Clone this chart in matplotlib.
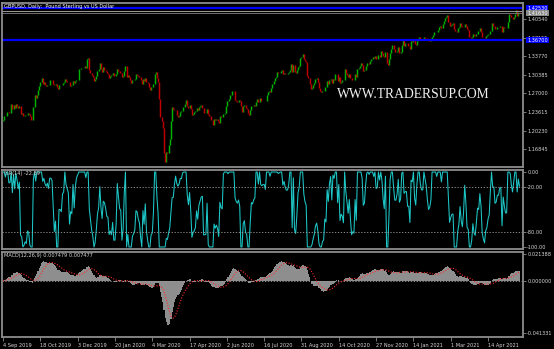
import numpy as np
import pandas as pd
import matplotlib
matplotlib.use("Agg")
import matplotlib.pyplot as plt

# GBPUSD daily closes, 4 Sep 2019 .. 21 May 2021, one row per week
closes = [
    1.2215, 1.2290, 1.2285,
    1.2355, 1.2355, 1.2335, 1.2335, 1.2505,
    1.2425, 1.2495, 1.2440, 1.2500, 1.2475,
    1.2440, 1.2475, 1.2320, 1.2345, 1.2290,
    1.2295, 1.2305, 1.2300, 1.2335, 1.2330,
    1.2295, 1.2215, 1.2210, 1.2450, 1.2665,
    1.2610, 1.2665, 1.2770, 1.2830, 1.2915,
    1.2975, 1.2880, 1.2910, 1.2855, 1.2830,
    1.2860, 1.2860, 1.2945, 1.2945, 1.2940,
    1.2880, 1.2860, 1.2880, 1.2810, 1.2775,
    1.2860, 1.2860, 1.2855, 1.2895, 1.2900,
    1.2955, 1.2925, 1.2915, 1.2905, 1.2830,
    1.2860, 1.2855, 1.2925, 1.2895, 1.2930,
    1.2945, 1.2950, 1.3140, 1.3150, 1.3155,
    1.3155, 1.3165, 1.3190, 1.3165, 1.3330,
    1.3340, 1.3120, 1.3080, 1.3035, 1.3005,
    1.2930, 1.2955, 1.3025, 1.3110,
    1.3145, 1.3260, 1.3145, 1.3085,
    # 2020
    1.3180, 1.3125, 1.3100, 1.3065, 1.3060,
    1.2985, 1.3020, 1.3030, 1.3075, 1.3010,
    1.3010, 1.3045, 1.3150, 1.3115, 1.3070,
    1.3065, 1.3000, 1.3025, 1.3105, 1.3205,
    1.2995, 1.3030, 1.2995, 1.2940, 1.2895,
    1.2940, 1.2950, 1.2965, 1.3045, 1.3040,
    1.3010, 1.2995, 1.2935, 1.2880, 1.2960,
    1.2930, 1.2975, 1.2915, 1.2895, 1.2825,
    1.2770, 1.2815, 1.2820, 1.2880, 1.3045,
    1.3085, 1.2980, 1.2910, 1.2600, 1.2275,
    1.2190, 1.2065, 1.1620, 1.1450, 1.1635,
    1.1615, 1.1755, 1.1870, 1.2190, 1.2455,
    1.2415, 1.2405, 1.2400, 1.2305, 1.2265,
    1.2295, 1.2370, 1.2380, 1.2445, 1.2455,
    1.2505, 1.2575, 1.2480, 1.2440, 1.2490,
    1.2415, 1.2305, 1.2325, 1.2355, 1.2375,
    1.2435, 1.2405, 1.2455, 1.2470, 1.2485,
    1.2430, 1.2335, 1.2335, 1.2335, 1.2410,
    1.2330, 1.2290, 1.2215, 1.2210, 1.2125,
    1.2235, 1.2215, 1.2230, 1.2200, 1.2165,
    1.2295, 1.2275, 1.2270, 1.2325, 1.2345,
    1.2480, 1.2570, 1.2560, 1.2590, 1.2665,
    1.2735, 1.2735, 1.2740, 1.2580, 1.2555,
    1.2545, 1.2585, 1.2560, 1.2480, 1.2355,
    1.2475, 1.2490, 1.2430, 1.2420, 1.2335,
    1.2315, 1.2400, 1.2475, 1.2470, 1.2485,
    1.2475, 1.2545, 1.2595, 1.2550, 1.2615,
    1.2565, 1.2560, 1.2565, 1.2565, 1.2565,
    1.2665, 1.2730, 1.2740, 1.2725, 1.2795,
    1.2875, 1.2925, 1.2985, 1.3005, 1.3085,
    1.3075, 1.3080, 1.3110, 1.3125, 1.3055,
    1.3075, 1.3045, 1.3045, 1.3065, 1.3090,
    1.3125, 1.3240, 1.3095, 1.3225, 1.3090,
    1.3080, 1.3125, 1.3185, 1.3200, 1.3345,
    1.3370, 1.3420, 1.3320, 1.3285, 1.3270,
    1.3010, 1.2985, 1.2880, 1.2775, 1.2795,
    1.2845, 1.2885, 1.2955, 1.2980, 1.2915,
    1.2800, 1.2735, 1.2725, 1.2745, 1.2750,
    1.2820, 1.2810, 1.2920, 1.2880, 1.2940,
    1.2965, 1.2885, 1.2955, 1.2945, 1.3045,
    1.3050, 1.2925, 1.3000, 1.2895, 1.2915,
    1.2950, 1.2935, 1.3140, 1.3075, 1.3040,
    1.3005, 1.3050, 1.2985, 1.2935, 1.2945,
    1.2940, 1.3050, 1.2995, 1.3140, 1.3155,
    1.3190, 1.3250, 1.3225, 1.3110, 1.3120,
    1.3195, 1.3245, 1.3250, 1.3240, 1.3285,
    1.3335, 1.3365, 1.3350, 1.3380, 1.3320,
    1.3325, 1.3400, 1.3370, 1.3465, 1.3440,
    1.3385, 1.3355, 1.3455, 1.3260, 1.3225,
    1.3320, 1.3440, 1.3500, 1.3585, 1.3510,
    1.3450, 1.3450, 1.3480, 1.3550,
    1.3440, 1.3455, 1.3580, 1.3670,
    # 2021
    1.3570, 1.3610, 1.3610, 1.3565, 1.3565,
    1.3515, 1.3645, 1.3640, 1.3670, 1.3590,
    1.3575, 1.3645, 1.3675, 1.3725, 1.3690,
    1.3675, 1.3675, 1.3735, 1.3715, 1.3705,
    1.3675, 1.3655, 1.3660, 1.3675, 1.3735,
    1.3755, 1.3820, 1.3825, 1.3815, 1.3850,
    1.3905, 1.3920, 1.3885, 1.3955, 1.4010,
    1.4070, 1.4095, 1.4135, 1.4005, 1.3920,
    1.3940, 1.3955, 1.3975, 1.3865, 1.3840,
    1.3820, 1.3885, 1.3915, 1.3990, 1.3930,
    1.3905, 1.3905, 1.3960, 1.3920, 1.3865,
    1.3860, 1.3730, 1.3700, 1.3725, 1.3790,
    1.3755, 1.3745, 1.3785, 1.3835, 1.3830,
    1.3885, 1.3820, 1.3735, 1.3720, 1.3710,
    1.3740, 1.3755, 1.3775, 1.3785, 1.3840,
    1.3985, 1.3930, 1.3930, 1.3870, 1.3875,
    1.3900, 1.3900, 1.3925, 1.3935, 1.3820,
    1.3915, 1.3895, 1.3895, 1.3895, 1.3995,
    1.4140, 1.4135, 1.4085, 1.4055, 1.4095,
    1.4145, 1.4215, 1.4110, 1.4185, 1.4155,
]
first_open = 1.2195

date_labels = ["4 Sep 2019", "18 Oct 2019", "3 Dec 2019", "20 Jan 2020", "4 Mar 2020",
               "17 Apr 2020", "2 Jun 2020", "16 Jul 2020", "31 Aug 2020", "14 Oct 2020",
               "27 Nov 2020", "14 Jan 2021", "1 Mar 2021", "14 Apr 2021"]
label_step = 32

price_ticks = [1.40540, 1.37155, 1.33770, 1.30385, 1.27000, 1.23615, 1.20230, 1.16845]
level_hi = 1.42530
level_lo = 1.36700
bid_price = 1.41630
ask_price = 1.41990

wr_ticks = [0, -20, -80, -100]
wr_levels = [-20, -80]
wr_text = "%R(14) -22.89"

macd_top = 0.021388
macd_bottom = -0.041331
macd_text = "MACD(12,26,9) 0.007479 0.007477"

title_text = "GBPUSD, Daily:  Pound Sterling vs US Dollar"
watermark = "WWW.TRADERSUP.COM"

# ---- indicators (same as the terminal computes them) ----
c = pd.Series(closes)
o = c.shift(1).fillna(first_open)
x = np.arange(len(c))

hh = c.rolling(14, min_periods=1).max()
ll = c.rolling(14, min_periods=1).min()
rng = (hh - ll).replace(0, np.nan)
wr = (-100 * (hh - c) / rng).fillna(0)

macd = c.ewm(span=12, adjust=False).mean() - c.ewm(span=26, adjust=False).mean()
signal = macd.rolling(9, min_periods=1).mean()

# ---- figure ----
W, H = 554, 349
fig = plt.figure(figsize=(W / 100, H / 100), dpi=100, facecolor="black")

def box(top, bottom):
    return [2 / W, (H - bottom) / H, 521 / W, (bottom - top) / H]

ax_p = fig.add_axes(box(3, 167))
ax_w = fig.add_axes(box(170, 249), sharex=ax_p)
ax_m = fig.add_axes(box(252, 337), sharex=ax_p)

txt = "#d8d8d8"
for ax in (ax_p, ax_w, ax_m):
    ax.set_facecolor("black")
    for s in ax.spines.values():
        s.set_color("#8c8c8c")
        s.set_linewidth(1.3)
    ax.yaxis.tick_right()
    ax.tick_params(axis="y", colors="#8c8c8c", labelcolor=txt, labelsize=3.6,
                   length=2, width=0.6, pad=1)
    ax.tick_params(axis="x", bottom=False, labelbottom=False)

# candles (open = previous close)
up = c >= o
ax_p.vlines(x[up], o[up], c[up], colors="#00b400", linewidth=1.05)
ax_p.vlines(x[~up], c[~up], o[~up], colors="#c00000", linewidth=1.05)

ax_p.axhline(ask_price, color="#9a9a9a", lw=0.7)
ax_p.axhline(bid_price, color="#6e6e6e", lw=0.7)
ax_p.axhline(level_hi, color="#0000ff", lw=1.6)
ax_p.axhline(level_lo, color="#0000ff", lw=1.6)

ax_p.set_ylim(1.1361, 1.4345)
ax_p.set_xlim(-0.9, 446)
ax_p.set_yticks(price_ticks)
ax_p.set_yticklabels([f"{v:.5f}" for v in price_ticks])

for val, fc in ((level_hi, "#0000ff"), (level_lo, "#0000ff"), (bid_price, "#8a8a8a")):
    ax_p.annotate(f"{val:.5f}", xy=(1, val), xycoords=("axes fraction", "data"),
                  xytext=(3, 0), textcoords="offset points", va="center", ha="left",
                  fontsize=3.6, color="white", zorder=5,
                  bbox=dict(boxstyle="square,pad=0.15", fc=fc, ec="none"),
                  annotation_clip=False)

ax_p.text(0.004, 0.995, title_text, transform=ax_p.transAxes, color="white",
          fontsize=3.6, va="top", ha="left")
ax_p.text(0.79, 0.445, watermark, transform=ax_p.transAxes, color="#f0f0f0",
          fontsize=9.8, family="Liberation Serif", va="center", ha="center")

# Williams %R
ax_w.plot(x, wr, color="#1ec8c8", lw=0.75)
for lv in wr_levels:
    ax_w.axhline(lv, color="#a0a0a0", lw=0.6, ls=(0, (1.5, 2)))
ax_w.set_ylim(-102.7, 2.7)
ax_w.set_yticks(wr_ticks)
ax_w.set_yticklabels([f"{v:.2f}" for v in wr_ticks])
ax_w.text(0.004, 0.985, wr_text, transform=ax_w.transAxes, color=txt,
          fontsize=3.6, va="top", ha="left")

# MACD
ax_m.bar(x, macd, width=1.0, color="#8e8e8e", linewidth=0)
ax_m.axhline(0, color="#a0a0a0", lw=0.6, ls=(0, (1.5, 2)))
ax_m.plot(x, signal, color="#ff2a2a", lw=0.8, ls=(0, (1, 1.5)))
ax_m.set_ylim(-0.0444, 0.0230)
ax_m.set_yticks([macd_top, 0.0, macd_bottom])
ax_m.set_yticklabels([f"{v:.6f}" for v in (macd_top, 0.0, macd_bottom)])
ax_m.text(0.004, 0.985, macd_text, transform=ax_m.transAxes, color=txt,
          fontsize=3.6, va="top", ha="left")

# date axis
ax_m.tick_params(axis="x", bottom=True, labelbottom=True, colors="#8c8c8c",
                 labelcolor=txt, labelsize=3.6, length=3, width=0.6, pad=1,
                 direction="out")
ax_m.set_xticks(np.arange(len(date_labels)) * label_step)
ax_m.set_xticklabels(date_labels, ha="left")

fig.savefig("out.png", dpi=100, facecolor="black")
